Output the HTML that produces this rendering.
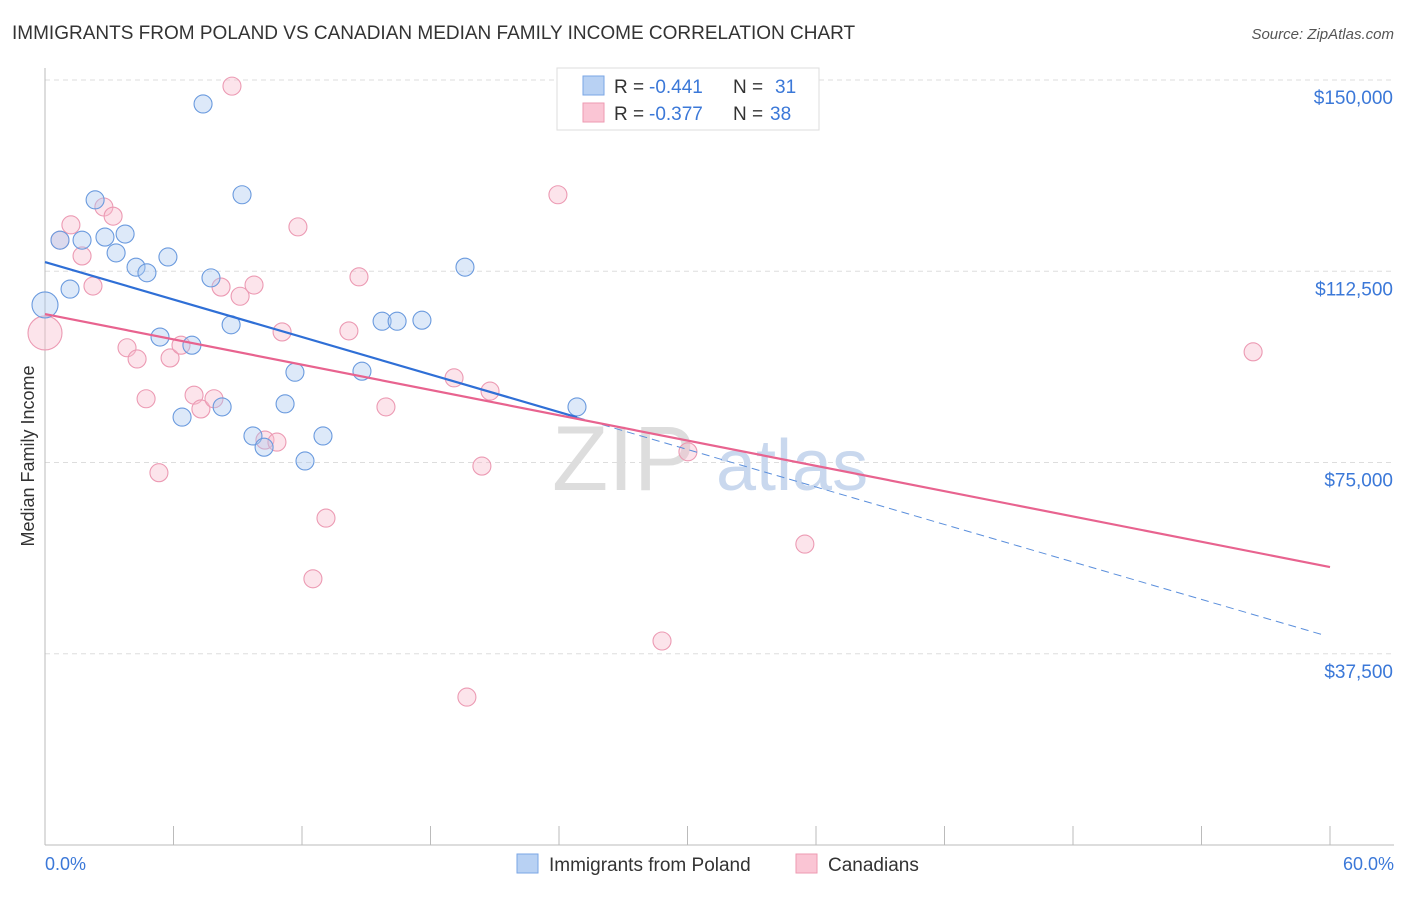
<!DOCTYPE html>
<html><head><meta charset="utf-8"><style>
body{margin:0;background:#fff;font-family:"Liberation Sans",sans-serif;}
svg text{font-family:"Liberation Sans",sans-serif;}
</style></head><body>
<svg id="chart" width="1406" height="892" xmlns="http://www.w3.org/2000/svg">
<text x="12" y="39" font-size="19" fill="#333">IMMIGRANTS FROM POLAND VS CANADIAN MEDIAN FAMILY INCOME CORRELATION CHART</text>
<text x="1394" y="39" font-size="15" fill="#555" text-anchor="end" font-style="italic">Source: ZipAtlas.com</text>
<text transform="translate(34,456) rotate(-90)" font-size="18" fill="#333" text-anchor="middle">Median Family Income</text>
<g id="grid"></g>
<text x="552" y="490" font-size="92" fill="#ddd" font-family="Liberation Serif,serif">ZIP</text>
<text x="716" y="490" font-size="72" fill="#c9d8ee">atlas</text>
<line x1="45" y1="68" x2="45" y2="845" stroke="#bbb"/>
<line x1="45" y1="845" x2="1394" y2="845" stroke="#bbb"/>
<g id="marks"></g>
<text x="45" y="870" font-size="18" fill="#3b78d8">0.0%</text>
<text x="1394" y="870" font-size="18" fill="#3b78d8" text-anchor="end">60.0%</text>
<g>
<rect x="557" y="68" width="262" height="62" fill="#fff" stroke="#ddd"/>
<rect x="583" y="76" width="21" height="19" fill="#b8d1f3" stroke="#7aa6e6"/>
<rect x="583" y="103" width="21" height="19" fill="#fac5d4" stroke="#ee9ab2"/>
<text x="614" y="93" font-size="19" fill="#333">R =</text>
<text x="649" y="93" font-size="19" fill="#3b78d8">-0.441</text>
<text x="733" y="93" font-size="19" fill="#333">N =</text>
<text x="775" y="93" font-size="19" fill="#3b78d8">31</text>
<text x="614" y="120" font-size="19" fill="#333">R =</text>
<text x="649" y="120" font-size="19" fill="#3b78d8">-0.377</text>
<text x="733" y="120" font-size="19" fill="#333">N =</text>
<text x="770" y="120" font-size="19" fill="#3b78d8">38</text>
</g>
<g>
<rect x="517" y="854" width="21" height="19" fill="#b8d1f3" stroke="#7aa6e6"/>
<text x="549" y="871" font-size="19" fill="#333">Immigrants from Poland</text>
<rect x="796" y="854" width="21" height="19" fill="#fac5d4" stroke="#ee9ab2"/>
<text x="828" y="871" font-size="19" fill="#333">Canadians</text>
</g>
</svg>
<script>
const yTicks=[37500,75000,112500,150000];
const yTickLabels=["$37,500","$75,000","$112,500","$150,000"];
const xTicks=[0,6,12,18,24,30,36,42,48,54,60];
const polandX=[0,0.70,1.17,1.73,2.34,2.80,3.32,3.74,4.25,4.76,5.37,5.74,6.40,6.86,7.38,7.75,8.27,8.69,9.20,9.71,10.23,11.21,11.67,12.14,12.98,14.80,15.74,16.44,17.60,19.61,24.84];
const polandY=[105.9,118.6,109.0,118.6,126.5,119.2,116.1,119.8,113.3,112.2,99.6,115.3,83.9,98.0,145.3,111.2,85.9,102.0,127.5,80.2,78.0,86.5,92.7,75.3,80.2,92.9,102.7,102.7,102.9,113.3,85.9];
const canX=[0,0.70,1.21,1.73,2.24,2.75,3.18,3.83,4.30,4.72,5.32,5.84,6.35,6.96,7.28,7.89,8.22,8.73,9.11,9.76,10.27,10.83,11.07,11.81,12.51,13.12,14.19,14.66,15.92,19.10,20.40,19.70,20.78,23.95,28.81,30.02,35.48,56.41];
const canY=[100.4,118.6,121.6,115.5,109.6,125.1,123.3,97.5,95.3,87.5,73.0,95.5,98.0,88.2,85.5,87.5,109.4,148.8,107.6,109.8,79.4,79.0,100.6,121.2,52.2,64.1,100.8,111.4,85.9,91.6,74.3,29.0,89.0,127.5,40.0,77.1,59.0,96.7];
const polandTrend=[114.3,40.8];
const polandSolidEnd=24.84;
const canTrend=[104.1,54.5];
const NS="http://www.w3.org/2000/svg";
const xs=p=>45+p/60*1285;
const ys=v=>845-v/150*765;
function mk(t,a,parent){const e=document.createElementNS(NS,t);for(const k in a)e.setAttribute(k,a[k]);document.getElementById(parent).appendChild(e);return e;}
yTicks.forEach((t,i)=>{
 const y=ys(t/1000);
 const g=mk('line',{x1:45,x2:1394,y1:y,y2:y,stroke:'#ddd','stroke-dasharray':'5,4'},'grid');
 
 
 const tx=mk('text',{x:1393,y:y+24,'font-size':19,fill:'#3b78d8','text-anchor':'end'},'grid');
 tx.textContent=yTickLabels[i];
 
 
});
xTicks.forEach(t=>{
 const l=mk('line',{x1:xs(t),x2:xs(t),y1:826,y2:845,stroke:'#bbb'},'grid');
 
 
});
function dots(X,Y,fill,stroke,name){
 X.forEach((x,i)=>{
  const r=(x===0)?(name==='canadian-point'?17:13):9;
  const c=mk('circle',{cx:xs(x),cy:ys(Y[i]),r:r,fill:fill,'fill-opacity':0.4,stroke:stroke,'stroke-width':1.1},'marks');
  
  
 });
}
dots(canX,canY,'#f8bccd','#ec9ab3','canadian-point');
dots(polandX,polandY,'#a9c7f0','#6a9ade','poland-point');
const pAt=x=>polandTrend[0]+(polandTrend[1]-polandTrend[0])*x/60;
let l1=mk('line',{x1:xs(0),y1:ys(pAt(0)),x2:xs(polandSolidEnd),y2:ys(pAt(polandSolidEnd)),stroke:'#2f6fd6','stroke-width':2.2},'marks');


let l2=mk('line',{x1:xs(polandSolidEnd),y1:ys(pAt(polandSolidEnd)),x2:xs(59.8),y2:ys(pAt(59.8)),stroke:'#5b8fdc','stroke-width':1,'stroke-dasharray':'8,5'},'marks');


let l3=mk('line',{x1:xs(0),y1:ys(canTrend[0]),x2:xs(60),y2:ys(canTrend[1]),stroke:'#e8638f','stroke-width':2.2},'marks');


</script>
</body></html>
